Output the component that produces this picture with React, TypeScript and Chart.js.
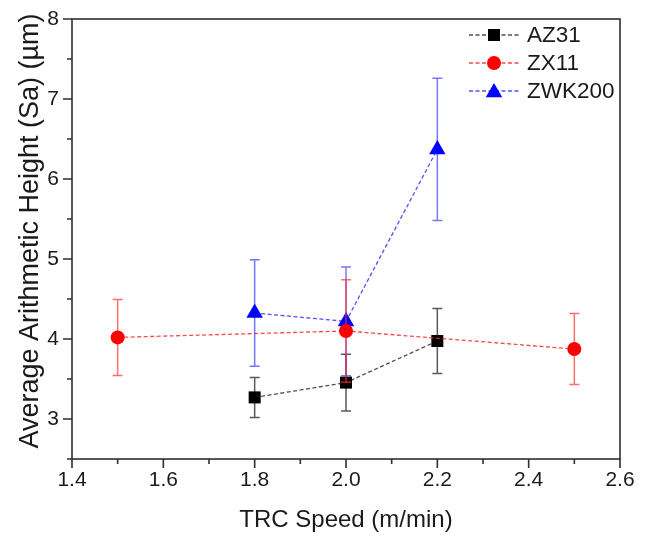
import React, { useEffect, useRef } from "react";
import { Chart, registerables } from "chart.js";

Chart.register(...registerables);

// ---- data ----
const AZ31_X = [1.8, 2.0, 2.2];
const AZ31_Y = [3.27, 3.455, 3.975];
const AZ31_ERR = [0.25, 0.355, 0.405];

const ZX11_X = [1.5, 2.0, 2.5];
const ZX11_Y = [4.02, 4.1, 3.875];
const ZX11_ERR = [0.475, 0.64, 0.445];

const ZWK200_X = [1.8, 2.0, 2.2];
const ZWK200_Y = [4.325, 4.22, 6.37];
const ZWK200_ERR = [0.665, 0.68, 0.89];

const X_TICKS = [1.4, 1.6, 1.8, 2.0, 2.2, 2.4, 2.6];
const X_MINOR = [1.5, 1.7, 1.9, 2.1, 2.3, 2.5];
const Y_TICKS = [3, 4, 5, 6, 7, 8];
const Y_MINOR = [2.5, 3.5, 4.5, 5.5, 6.5, 7.5];

const X_TITLE = "TRC Speed (m/min)";
const Y_TITLE = "Average Arithmetic Height (Sa) (µm)";

const FONT = "'Liberation Sans', Arial, sans-serif";
const TEXT = "#1a1a1a";
const AXIS = "#2f2f2f";

type Series = {
  label: string;
  xs: number[];
  ys: number[];
  err: number[];
  marker: "rect" | "circle" | "triangle";
  radius: number;
  color: string;
  lineColor: string;
  errColor: string;
  order: number;
};

const SERIES: Series[] = [
  { label: "AZ31", xs: AZ31_X, ys: AZ31_Y, err: AZ31_ERR, marker: "rect", radius: 8.5, color: "#000000", lineColor: "rgba(60,60,60,0.9)", errColor: "rgba(60,60,60,0.85)", order: 2 },
  { label: "ZX11", xs: ZX11_X, ys: ZX11_Y, err: ZX11_ERR, marker: "circle", radius: 7, color: "#ff0000", lineColor: "rgba(255,40,40,0.85)", errColor: "rgba(255,50,50,0.7)", order: 0 },
  { label: "ZWK200", xs: ZWK200_X, ys: ZWK200_Y, err: ZWK200_ERR, marker: "triangle", radius: 9.5, color: "#0000ff", lineColor: "rgba(50,50,255,0.85)", errColor: "rgba(60,60,255,0.7)", order: 1 },
];

function drawMarker(ctx: CanvasRenderingContext2D, kind: string, x: number, y: number, r: number, color: string) {
  ctx.save();
  ctx.fillStyle = color;
  ctx.beginPath();
  if (kind === "rect") {
    const s = Math.SQRT1_2 * r;
    ctx.rect(x - s, y - s, 2 * s, 2 * s);
  } else if (kind === "circle") {
    ctx.arc(x, y, r, 0, Math.PI * 2);
  } else {
    const a = -Math.PI / 2;
    for (let k = 0; k < 3; k++) {
      const ang = a + (k * 2 * Math.PI) / 3;
      const px = x + Math.cos(ang) * r;
      const py = y + Math.sin(ang) * r;
      if (k === 0) ctx.moveTo(px, py);
      else ctx.lineTo(px, py);
    }
    ctx.closePath();
  }
  ctx.fill();
  ctx.restore();
}

const errorBarPlugin = {
  id: "errorBars",
  beforeDatasetDraw(chart: any, args: any) {
    const s = SERIES[args.index];
    if (!s) return;
    const ctx = chart.ctx as CanvasRenderingContext2D;
    const xs = chart.scales.x;
    const ys = chart.scales.y;
    ctx.save();
    ctx.strokeStyle = s.errColor;
    ctx.lineWidth = 1.5;
    s.xs.forEach((xv, i) => {
      const px = xs.getPixelForValue(xv);
      const top = ys.getPixelForValue(s.ys[i] + s.err[i]);
      const bot = ys.getPixelForValue(s.ys[i] - s.err[i]);
      ctx.beginPath();
      ctx.moveTo(px, top);
      ctx.lineTo(px, bot);
      ctx.moveTo(px - 5, top);
      ctx.lineTo(px + 5, top);
      ctx.moveTo(px - 5, bot);
      ctx.lineTo(px + 5, bot);
      ctx.stroke();
    });
    ctx.restore();
  },
};

const framePlugin = {
  id: "frame",
  afterDraw(chart: any) {
    const ctx = chart.ctx as CanvasRenderingContext2D;
    const { left, right, top, bottom } = chart.chartArea;
    const xs = chart.scales.x;
    const ys = chart.scales.y;
    ctx.save();
    ctx.strokeStyle = AXIS;
    ctx.lineWidth = 1.6;
    ctx.strokeRect(left, top, right - left, bottom - top);
    ctx.beginPath();
    X_TICKS.forEach((v) => {
      const p = xs.getPixelForValue(v);
      ctx.moveTo(p, bottom);
      ctx.lineTo(p, bottom + 9);
    });
    X_MINOR.forEach((v) => {
      const p = xs.getPixelForValue(v);
      ctx.moveTo(p, bottom);
      ctx.lineTo(p, bottom + 5);
    });
    Y_TICKS.forEach((v) => {
      const p = ys.getPixelForValue(v);
      ctx.moveTo(left, p);
      ctx.lineTo(left - 9, p);
    });
    Y_MINOR.forEach((v) => {
      const p = ys.getPixelForValue(v);
      ctx.moveTo(left, p);
      ctx.lineTo(left - 5, p);
    });
    ctx.stroke();

    // y-axis title
    ctx.fillStyle = TEXT;
    ctx.font = `27px ${FONT}`;
    ctx.textAlign = "center";
    ctx.textBaseline = "middle";
    ctx.translate(31, (top + bottom) / 2 - 8);
    ctx.rotate(-Math.PI / 2);
    ctx.fillText(Y_TITLE, 0, 0);
    ctx.restore();
  },
};

const legendPlugin = {
  id: "customLegend",
  afterDraw(chart: any) {
    const ctx = chart.ctx as CanvasRenderingContext2D;
    const { right, top } = chart.chartArea;
    ctx.save();
    SERIES.forEach((s, i) => {
      const y = top + 16 + i * 28;
      const x0 = right - 151;
      const x1 = right - 101;
      ctx.strokeStyle = s.lineColor;
      ctx.lineWidth = 1.3;
      ctx.setLineDash([4, 2.5]);
      ctx.beginPath();
      ctx.moveTo(x0, y);
      ctx.lineTo(x1, y);
      ctx.stroke();
      ctx.setLineDash([]);
      drawMarker(ctx, s.marker, (x0 + x1) / 2, y + (s.marker === "triangle" ? 1.5 : 0), s.radius, s.color);
      ctx.fillStyle = TEXT;
      ctx.font = `22.5px ${FONT}`;
      ctx.textBaseline = "middle";
      ctx.textAlign = "left";
      ctx.fillText(s.label, right - 93, y + 1);
    });
    ctx.restore();
  },
};

export default function App() {
  const ref = useRef<HTMLCanvasElement>(null);
  useEffect(() => {
    const canvas = ref.current;
    if (!canvas) return;
    const chart = new Chart(canvas, {
      type: "scatter",
      data: {
        datasets: SERIES.map((s) => ({
          label: s.label,
          data: s.xs.map((x, i) => ({ x, y: s.ys[i] })),
          showLine: true,
          borderColor: s.lineColor,
          borderWidth: 1.3,
          borderDash: [4, 2.5],
          pointStyle: s.marker,
          pointRadius: s.radius,
          pointHoverRadius: s.radius,
          pointBackgroundColor: s.color,
          pointBorderColor: s.color,
          pointBorderWidth: 0,
          order: s.order,
          tension: 0,
        })),
      },
      options: {
        responsive: false,
        animation: false,
        devicePixelRatio: 1,
        layout: { padding: { top: 19, right: 30, left: 0, bottom: 0 } },
        plugins: {
          legend: { display: false },
          tooltip: { enabled: false },
        },
        scales: {
          x: {
            type: "linear",
            min: 1.4,
            max: 2.6,
            afterBuildTicks: (s: any) => {
              s.ticks = X_TICKS.map((v) => ({ value: v }));
            },
            afterFit: (s: any) => {
              s.height = 80;
              s.paddingLeft = 0;
              s.paddingRight = 0;
            },
            grid: { display: false, drawTicks: false },
            border: { display: false },
            ticks: {
              autoSkip: false,
              maxRotation: 0,
              padding: 9,
              color: TEXT,
              font: { family: FONT, size: 21 },
              callback: (v: any) => Number(v).toFixed(1),
            },
            title: {
              display: true,
              text: X_TITLE,
              color: TEXT,
              font: { family: FONT, size: 24 },
              padding: { top: 0, bottom: 4 },
            },
          },
          y: {
            type: "linear",
            min: 2.5,
            max: 8,
            afterBuildTicks: (s: any) => {
              s.ticks = Y_TICKS.map((v) => ({ value: v }));
            },
            afterFit: (s: any) => {
              s.width = 72;
              s.paddingTop = 0;
              s.paddingBottom = 0;
            },
            grid: { display: false, drawTicks: false },
            border: { display: false },
            ticks: {
              autoSkip: false,
              padding: 13,
              color: TEXT,
              font: { family: FONT, size: 21 },
              callback: (v: any) => String(v),
            },
            title: { display: false },
          },
        },
      },
      plugins: [errorBarPlugin, framePlugin, legendPlugin],
    });
    return () => chart.destroy();
  }, []);
  return (
    <div style={{ position: "fixed", left: 0, top: 0, width: 650, height: 539, background: "#fff" }}>
      <canvas ref={ref} width={650} height={539} style={{ display: "block", width: 650, height: 539 }} />
    </div>
  );
}
